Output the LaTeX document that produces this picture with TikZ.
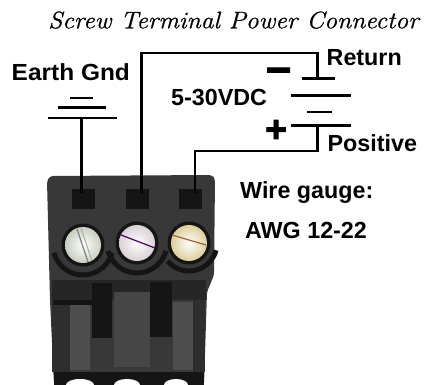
\documentclass[tikz,border=0pt]{standalone}
\usepackage{fontspec}
\newfontfamily\lab{Liberation Sans}
\newfontfamily\signfont[UprightFont={* Bold},FakeBold=2.5]{Liberation Sans}
\newfontfamily\titlefont[ItalicFeatures={FakeBold=0.7}]{Latin Modern Roman}
\definecolor{body}{HTML}{383838}
\definecolor{dark}{HTML}{151515}
\definecolor{mid}{HTML}{262626}
\definecolor{slat}{HTML}{4E4E4E}
\definecolor{slatb}{HTML}{464646}
\definecolor{side}{HTML}{2E2E2E}
\definecolor{scrA}{HTML}{C8CFC0}
\definecolor{scrB}{HTML}{D8D0D6}
\definecolor{scrC}{HTML}{DCCF9C}
\begin{document}
\begin{tikzpicture}[x=1pt,y=-1pt,
  wire/.style={line width=2.6pt,black,line join=miter},
  plate/.style={line width=2.6pt,black},
  lbl/.style={font=\lab\bfseries\fontsize{23.3}{28}\selectfont,inner sep=0pt,anchor=base west},
  sign/.style={inner sep=0pt,anchor=north},
  hole/.style={fill=dark,minimum width=23pt,minimum height=20pt,inner sep=0pt},
  scallop/.style={dark,line width=5pt}]
\useasboundingbox (0,0) rectangle (434,385);
\fill[white] (0,0) rectangle (434,385);
% title
\node[anchor=base,font=\titlefont\itshape\fontsize{24}{29}\selectfont,inner sep=0pt] (title) at (233.5,28.3) {\scalebox{1.067}[1]{Screw Terminal Power Connector}};
% terminal block body
\fill[body,rounded corners=3pt] (47,181) -- (50,176) -- (212,175) -- (215,179) -- (214,275) -- (207,292) -- (204,385) -- (54,385) -- (50,300) -- cycle;
% lower structure
\fill[mid] (52,280) rectangle (206,300);
\fill[side] (52,300) rectangle (70,372);
\fill[side] (193,300) rectangle (205,372);
\fill[dark] (53,300) rectangle (108,305);
\fill[dark] (92,283) rectangle (112,338);
\fill[dark] (150,282) rectangle (172,337);
\fill[slat] (70,305) rectangle (90,370);
\fill[slatb] (114,292) rectangle (150,367);
\fill[slat] (173,302) rectangle (193,370);
\fill[dark] (54,372) rectangle (204,385);
\fill[white] (80,385) ellipse [x radius=14,y radius=6];
\fill[white] (127,385) ellipse [x radius=13,y radius=6];
\fill[white] (176,385) ellipse [x radius=12,y radius=6];
% scalloped edges under the screws
\draw[scallop] (83,245) ++(15:30) arc[start angle=15,end angle=165,radius=30];
\draw[scallop] (137,243) ++(15:30) arc[start angle=15,end angle=165,radius=30];
\draw[scallop] (189,243) ++(15:28) arc[start angle=15,end angle=140,radius=28];
% square holes
\node[hole] (h1) at (83.5,199) {};
\node[hole] (h2) at (137,199) {};
\node[hole] (h3) at (190.5,199) {};
% screws
\fill[dark] (83,245) circle (21.5);
\fill[dark] (137,243) circle (21.5);
\fill[dark] (189,243) circle (21.5);
\shade[inner color=white,outer color=scrA] (83,245) circle (18);
\shade[inner color=white,outer color=scrB] (137,243) circle (18);
\shade[inner color=white,outer color=scrC] (189,243) circle (18);
\draw[line width=1.2pt,gray] (77,229) -- (88,262);
\draw[line width=0.8pt,gray!70] (81,228) -- (92,261);
\draw[line width=1.2pt,black!50!red!60!blue] (121,235) -- (155,248);
\draw[line width=1.2pt,brown!80!black] (172,235) -- (206,245);
% ground symbol
\draw[plate] (70,98) -- (93,98);
\draw[plate] (58,107.3) -- (106,107.3);
\draw[plate] (48,118) -- (117,118);
\coordinate (gnd) at (81.7,118);
% battery
\draw[plate] (301.7,78.8) -- (335,78.8);
\draw[plate] (291,95.5) -- (350.7,95.5);
\draw[plate] (306.7,112) -- (332.3,112);
\draw[plate] (291,125.5) -- (350.7,125.5);
\coordinate (batneg) at (317.5,78.8);
\coordinate (batpos) at (317.5,125.5);
\coordinate (top) at (317.5,53);
\coordinate (bot) at (317.5,151);
% wire ends in the holes
\coordinate (w1) at (81.7,193);
\coordinate (w2) at (141.7,193);
\coordinate (w3) at (195,193);
% wires
\draw[wire] (w1) -- (gnd);
\draw[wire] (w2) -- (w2 |- top) -- (top) -- (batneg);
\draw[wire] (w3) |- (bot) -- (batpos);
% labels
\node[lbl] (earth) at (11.5,81) {\scalebox{1.05}[1]{Earth Gnd}};
\node[lbl] (ret) at (326.5,66) {Return};
\node[lbl] (pos) at (327.5,152) {Positive};
\node[lbl] (volt) at (171,106) {5-30VDC};
\node[lbl] (wg) at (240,198) {Wire gauge:};
\node[lbl] (awg) at (245,238) {AWG 12-22};
\node[sign,font=\signfont\fontsize{37}{40}\selectfont] (plus) at (276,120) {+};
\node[sign,font=\signfont\fontsize{44}{48}\selectfont] (minus) at (278.7,67.7) {–};
\end{tikzpicture}
\end{document}
